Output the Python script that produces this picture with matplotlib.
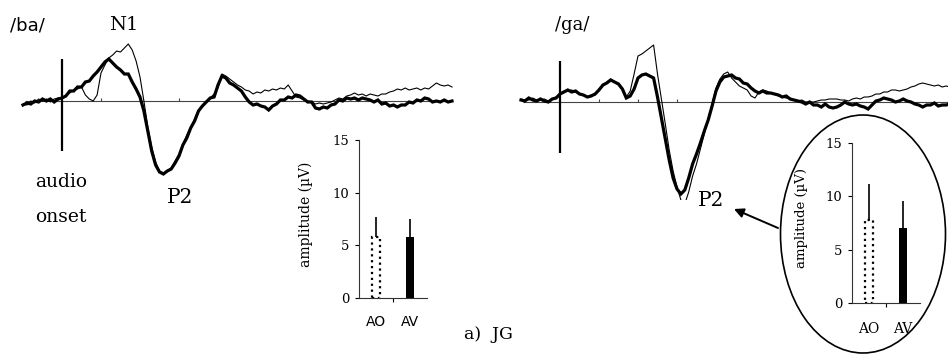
import numpy as np
import matplotlib.pyplot as plt
from matplotlib.patches import Ellipse

W, H = 948, 356

# time axis of the averaged waveforms (ms, 0 = audio onset)
t_ms = np.arange(-100, 1001, 10)

# /ba/ waveforms (uV, negative plotted up)
ba_av = [0.4, 0.2, 0.3, 0.0, 0.1, -0.2, 0.0, -0.2, 0.1, -0.2,
         -0.3, -0.5, -1.0, -1.0, -1.4, -1.4, -1.9, -2.0, -2.5, -2.9,
         -3.4, -3.9, -4.2, -3.8, -3.4, -3.1, -2.7, -2.7, -1.9, -1.2,
         -0.4, 1.0, 3.0, 5.0, 6.4, 7.1, 7.3, 7.0, 6.8, 6.2,
         5.5, 4.4, 3.7, 2.7, 2.0, 1.0, 0.5, 0.1, -0.3, -0.4,
         -1.6, -2.5, -2.3, -1.8, -1.6, -1.3, -1.0, -0.4, 0.1, 0.4,
         0.3, 0.5, 0.6, 0.9, 0.5, 0.3, -0.1, -0.1, -0.4, -0.3,
         -0.6, -0.5, -0.2, 0.1, 0.1, 0.7, 0.8, 0.6, 0.7, 0.4,
         0.3, -0.1, 0.0, -0.3, -0.2, -0.3, -0.1, -0.3, -0.2, -0.1,
         0.1, -0.1, 0.3, 0.2, 0.5, 0.4, 0.6, 0.4, 0.4, 0.1,
         0.2, -0.1, 0.0, -0.3, -0.2, 0.1, 0.0, 0.1, -0.1, 0.1, 0.0]
ba_ao = [0.3, 0.4, 0.0, 0.2, -0.2, 0.0, -0.2, 0.1, -0.2, -0.3,
         -0.2, -0.6, -0.8, -1.1, -1.2, -1.4, -0.6, -0.2, 0.0, -0.6,
         -2.8, -3.6, -4.3, -4.6, -5.0, -4.9, -5.3, -5.7, -5.1, -4.0,
         -2.4, 0.0, 2.6, 4.6, 6.1, 7.0, 7.2, 7.0, 6.7, 6.0,
         5.3, 4.3, 3.4, 2.6, 1.8, 0.9, 0.4, 0.0, -0.3, -0.7,
         -1.3, -2.7, -2.5, -2.2, -1.9, -1.6, -1.4, -1.1, -1.0, -0.7,
         -0.9, -0.8, -1.1, -1.0, -1.2, -1.1, -1.3, -1.2, -1.6, -1.0,
         -0.4, -0.3, -0.1, 0.0, 0.1, 0.3, 0.2, 0.3, 0.2, 0.1,
         -0.1, -0.3, -0.2, -0.5, -0.6, -0.8, -0.6, -0.7, -0.5, -0.7,
         -0.6, -0.5, -0.7, -0.7, -0.9, -1.0, -1.2, -1.1, -1.3, -1.1,
         -1.2, -1.3, -1.1, -1.3, -1.2, -1.5, -1.8, -1.6, -1.5, -1.6, -1.4]

# /ga/ waveforms
ga_av = [-0.2, -0.1, -0.4, -0.2, -0.1, -0.3, -0.1, 0.0, -0.3, -0.4,
         -0.8, -1.0, -1.2, -1.0, -1.1, -0.8, -0.7, -0.5, -0.6, -0.8,
         -1.2, -1.7, -1.9, -2.2, -2.0, -1.8, -1.3, -0.4, -0.6, -1.3,
         -2.4, -2.7, -2.8, -2.6, -2.4, -0.5, 1.6, 3.7, 5.8, 7.6,
         8.7, 9.2, 8.8, 7.6, 6.2, 5.2, 4.1, 2.9, 1.8, 0.4,
         -1.1, -2.0, -2.5, -2.6, -2.7, -2.4, -2.3, -1.9, -1.8, -1.4,
         -1.1, -0.9, -1.1, -0.9, -0.9, -0.8, -0.7, -0.5, -0.6, -0.3,
         -0.2, -0.1, 0.0, 0.2, 0.0, 0.3, 0.3, 0.5, 0.2, 0.5,
         0.6, 0.5, 0.3, 0.0, 0.2, 0.3, 0.2, 0.4, 0.5, 0.7,
         0.3, -0.1, -0.2, -0.4, -0.3, -0.2, 0.0, -0.1, -0.3, -0.1,
         0.0, 0.2, 0.3, 0.5, 0.3, 0.3, 0.1, 0.4, 0.3, 0.3, 0.2]
ga_ao = [-0.3, -0.2, -0.2, -0.4, -0.2, -0.2, -0.3, -0.1, -0.3, -0.5,
         -0.7, -1.1, -1.1, -1.2, -1.0, -0.8, -0.7, -0.5, -0.7, -0.7,
         -1.3, -1.6, -2.0, -2.3, -2.0, -1.7, -1.2, -0.5, -1.1, -2.8,
         -4.6, -4.8, -5.1, -5.4, -5.7, -2.8, -0.3, 2.2, 4.8, 6.9,
         8.5, 9.8, 10.2, 9.0, 7.4, 6.2, 4.7, 3.2, 1.6, 0.2,
         -1.4, -2.3, -2.8, -3.0, -2.4, -2.0, -1.6, -1.4, -1.2, -0.6,
         -0.4, -1.0, -1.2, -1.1, -0.9, -0.8, -0.6, -0.5, -0.4, -0.4,
         -0.2, -0.1, -0.2, 0.0, 0.0, 0.0, -0.1, -0.2, -0.2, -0.3,
         -0.3, -0.3, -0.2, -0.2, -0.1, -0.3, -0.4, -0.3, -0.5, -0.5,
         -0.6, -0.8, -0.8, -1.0, -1.0, -1.2, -1.2, -1.1, -1.2, -1.3,
         -1.5, -1.6, -1.8, -1.9, -1.8, -1.7, -1.6, -1.7, -1.5, -1.6, -1.5]

# P2 amplitude bar charts
conditions = ['AO', 'AV']
ba_p2 = [5.8, 5.8]
ba_p2_err = [1.9, 1.7]
ga_p2 = [7.8, 7.0]
ga_p2_err = [3.4, 2.6]
amp_ticks = [0, 5, 10, 15]
time_ticks = [100, 200, 300]


def px_box(x0, y0, x1, y1):
    # pixel box (top-left origin) -> figure fraction
    return [x0 / W, 1 - y1 / H, (x1 - x0) / W, (y1 - y0) / H]


fig = plt.figure(figsize=(W / 100, H / 100), dpi=100)

# overlay in pixel coordinates for labels, oval and arrow
ov = fig.add_axes([0, 0, 1, 1])
ov.set_xlim(0, W)
ov.set_ylim(H, 0)
ov.axis('off')


def erp_panel(box, onset_px, base_px, av, ao, onset_span):
    ax = fig.add_axes(px_box(*box))
    x0, y0, x1, y1 = box
    ax.set_xlim((x0 - onset_px) / 0.39, (x1 - onset_px) / 0.39)
    ax.set_ylim((y1 - base_px) / 10, (y0 - base_px) / 10)  # negative up
    ax.axis('off')
    ax.hlines(0, t_ms[0] + 5, t_ms[-1], color='#444444', lw=0.8)
    ax.vlines(time_ticks, 0, -0.35, color='#444444', lw=0.8)
    ax.vlines(0, onset_span[0], onset_span[1], color='k', lw=1.6)
    ax.plot(t_ms, av, color='k', lw=2.3, solid_joinstyle='miter')
    ax.plot(t_ms, ao, color='k', lw=0.8)
    return ax


erp_panel((20, 20, 460, 200), 62, 101, ba_av, ba_ao, (-4.2, 5.0))
erp_panel((515, 20, 948, 200), 560, 102, ga_av, ga_ao, (-4.1, 5.1))


def bar_inset(box, vals, errs, label_font, label_size, pad, ylab_x, ylab_size):
    ax = fig.add_axes(px_box(*box))
    ax.patch.set_alpha(0)
    xs = np.array([0.5, 1.5])
    ax.bar(xs[0], vals[0], width=0.25, fill=False, edgecolor='k',
           linestyle=':', lw=1.6)
    ax.bar(xs[1], vals[1], width=0.22, color='k')
    ax.errorbar(xs, vals, yerr=[[0, 0], errs], fmt='none', ecolor='k',
                elinewidth=1.2, capsize=0)
    ax.set_xlim(0, 2)
    ax.set_ylim(0, 15)
    for s in ['top', 'right']:
        ax.spines[s].set_visible(False)
    for s in ['left', 'bottom']:
        ax.spines[s].set_linewidth(0.8)
        ax.spines[s].set_color('#333333')
    ax.set_yticks(amp_ticks)
    ax.set_yticklabels([str(v) for v in amp_ticks], family='DejaVu Serif',
                       fontsize=9.5)
    ax.tick_params(axis='y', length=3, width=0.8, pad=4)
    ax.set_xticks([1])
    ax.set_xticklabels([''])
    ax.tick_params(axis='x', length=3, width=0.8)
    ax.set_xticks(xs, conditions, minor=True)
    for lab in ax.get_xticklabels(minor=True):
        lab.set_family(label_font)
        lab.set_fontsize(label_size)
    ax.tick_params(axis='x', which='minor', length=0, pad=pad)
    ax.set_ylabel('amplitude (µV)', family='DejaVu Serif', fontsize=ylab_size)
    ax.yaxis.set_label_coords(ylab_x, 0.53)
    return ax


bar_inset((359, 140, 427, 298), ba_p2, ba_p2_err, 'DejaVu Sans', 10, 12,
          -0.68, 10)
bar_inset((852, 143, 920, 303), ga_p2, ga_p2_err, 'DejaVu Serif', 10, 14,
          -0.64, 9.5)

# oval around the /ga/ bar chart and arrow to P2
ov.add_patch(Ellipse((863, 234), 165, 238, fill=False, edgecolor='k', lw=1.2))
ov.annotate('', xy=(734, 209), xytext=(778, 228),
            arrowprops=dict(arrowstyle='-|>', color='k', lw=1.4,
                            mutation_scale=14, shrinkA=0, shrinkB=0))

serif = 'DejaVu Serif'
ov.text(10, 30, '/ba/', family='DejaVu Sans', fontsize=13, va='baseline')
ov.text(124, 30, 'N1', family=serif, fontsize=14, ha='center', va='baseline')
ov.text(572, 30, '/ga/', family=serif, fontsize=13, ha='center', va='baseline')
ov.text(61, 187, 'audio', family=serif, fontsize=13.5, ha='center', va='baseline')
ov.text(61, 222, 'onset', family=serif, fontsize=13.5, ha='center', va='baseline')
ov.text(180, 203, 'P2', family=serif, fontsize=14.5, ha='center', va='baseline')
ov.text(711, 206, 'P2', family=serif, fontsize=14.5, ha='center', va='baseline')
ov.text(488, 339, 'a)  JG', family=serif, fontsize=12.5, ha='center', va='baseline')

fig.savefig('out.png', dpi=100)
